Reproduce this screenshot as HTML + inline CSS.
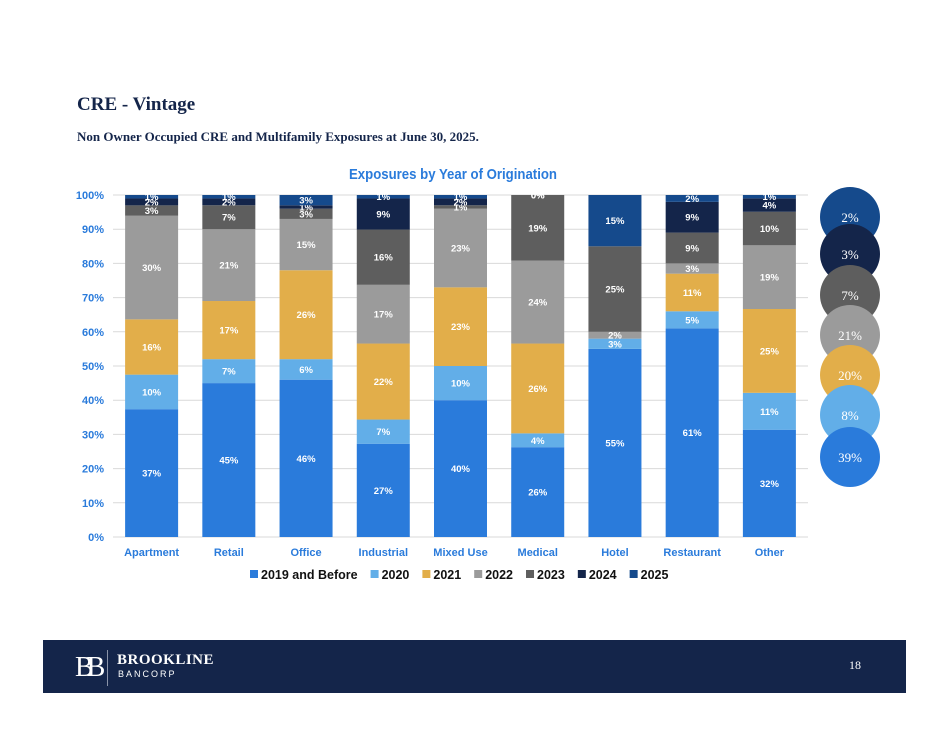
<!DOCTYPE html>
<html><head><meta charset="utf-8">
<style>
body{margin:0;background:#fff;}
#wrap{position:relative;width:949px;height:737px;overflow:hidden;font-family:"Liberation Serif",serif;}
.t{position:absolute;color:#14254a;font-weight:bold;}
</style></head>
<body>
<div id="wrap">
<div class="t" style="left:77px;top:94px;font-size:19px;">CRE - Vintage</div>
<div class="t" style="left:77px;top:129px;font-size:13px;">Non Owner Occupied CRE and Multifamily Exposures at June 30, 2025.</div>
<svg id="chart" width="949" height="737" style="position:absolute;left:0;top:0"></svg>
<div style="position:absolute;left:43px;top:640px;width:863px;height:53px;background:#14254a">
  <div style="position:absolute;left:32px;top:12px;color:#fff;font-size:28px;font-family:'Liberation Serif',serif;letter-spacing:-7px">BB</div>
  <div style="position:absolute;left:64px;top:10px;width:1px;height:36px;background:#8a93a8"></div>
  <div style="position:absolute;left:74px;top:12px;color:#fff;font-size:15px;font-weight:bold;font-family:'Liberation Serif',serif;letter-spacing:0.5px">BROOKLINE</div>
  <div style="position:absolute;left:75px;top:29px;color:#fff;font-size:9px;font-family:'Liberation Sans',sans-serif;letter-spacing:2px">BANCORP</div>
  <div style="position:absolute;left:806px;top:18px;color:#fff;font-size:12px">18</div>
</div>
</div>
<script>
const categories=["Apartment","Retail","Office","Industrial","Mixed Use","Medical","Hotel","Restaurant","Other"];
const seriesNames=["2019 and Before","2020","2021","2022","2023","2024","2025"];
const s2019=[37,45,46,27,40,26,55,61,32];
const s2020=[10,7,6,7,10,4,3,5,11];
const s2021=[16,17,26,22,23,26,0,11,25];
const s2022=[30,21,15,17,23,24,2,3,19];
const s2023=[3,7,3,16,1,19,25,9,10];
const s2024=[2,2,1,9,2,0,0,9,4];
const s2025=[1,1,3,1,1,0,15,2,1];
const totals=["2%","3%","7%","21%","20%","8%","39%"];
const yTicks=[0,10,20,30,40,50,60,70,80,90,100];
const colors=["#2a7bdb","#62aee8","#e2ae4a","#9b9b9b","#5e5e5e","#14254a","#154a8c"];
const series=[s2019,s2020,s2021,s2022,s2023,s2024,s2025];
const svg=document.getElementById('chart');
const NS="http://www.w3.org/2000/svg";
const x0=113,x1=808,y0=537,y1=195;
const band=(x1-x0)/categories.length;
const xc=i=>x0+band*(i+0.5);
const y=v=>y0-(y0-y1)*v/100;
function mk(tag,a){const e=document.createElementNS(NS,tag);for(const k in a)e.setAttribute(k,a[k]);svg.appendChild(e);return e;}
let e=mk('text',{x:349,y:179,'font-family':'Liberation Sans,sans-serif','font-size':15,'font-weight':'bold',fill:'#2a7bdb',textLength:208,lengthAdjust:'spacingAndGlyphs'});
e.textContent="Exposures by Year of Origination";


yTicks.forEach(t=>{
  const g=mk('line',{x1:x0,x2:x1,y1:y(t),y2:y(t),stroke:'#d9d9d9','stroke-width':1});
  
  
  const l=mk('text',{x:x0-9,y:y(t)+4,'text-anchor':'end','font-family':'Liberation Sans,sans-serif','font-size':11,'font-weight':'bold',fill:'#2a7bdb'});
  l.textContent=t+"%";
  
  
});
const bw=53;
categories.forEach((c,i)=>{
  const sum=series.reduce((a,s)=>a+s[i],0);
  let acc=0;
  series.forEach((s,k)=>{
    const v=s[i]*100/sum;
    const top=y(acc+v),bot=y(acc);
    const r=mk('rect',{x:xc(i)-bw/2,y:top,width:bw,height:Math.max(0,bot-top),fill:colors[k]});
    
    
    if(s[i]>0||k>=5&&i===5){
      const t=mk('text',{x:xc(i),y:(top+bot)/2+3.5,'text-anchor':'middle','font-family':'Liberation Sans,sans-serif','font-size':9.5,'font-weight':'bold',fill:'#fff'});
      t.textContent=s[i]+"%";
      
      
    }
    acc+=v;
  });
  const l=mk('text',{x:xc(i),y:556,'text-anchor':'middle','font-family':'Liberation Sans,sans-serif','font-size':11,'font-weight':'bold',fill:'#2a7bdb'});
  l.textContent=c;
  
  
});
// legend
let lx=250;
seriesNames.forEach((n,k)=>{
  const r=mk('rect',{x:lx,y:570,width:8,height:8,fill:colors[k]});
  
  
  const t=mk('text',{x:lx+11,y:579,'font-family':'Liberation Sans,sans-serif','font-size':12.5,'font-weight':'bold',fill:'#111'});
  t.textContent=n;
  
  
  lx+=11+t.getComputedTextLength()+13;
});
// total circles (top: 2025 down to 2019)
const cy=[217,254,295,335,375,415,457];
const circColors=["#154a8c","#14254a","#5e5e5e","#9b9b9b","#e2ae4a","#62aee8","#2a7bdb"];
totals.forEach((tv,k)=>{
  const c=mk('circle',{cx:850,cy:cy[k],r:30,fill:circColors[k]});
  
  
  const t=mk('text',{x:850,y:cy[k]+5,'text-anchor':'middle','font-family':'Liberation Serif,serif','font-size':13,fill:'#fff'});
  t.textContent=tv;
  
  
});
</script>
</body></html>
